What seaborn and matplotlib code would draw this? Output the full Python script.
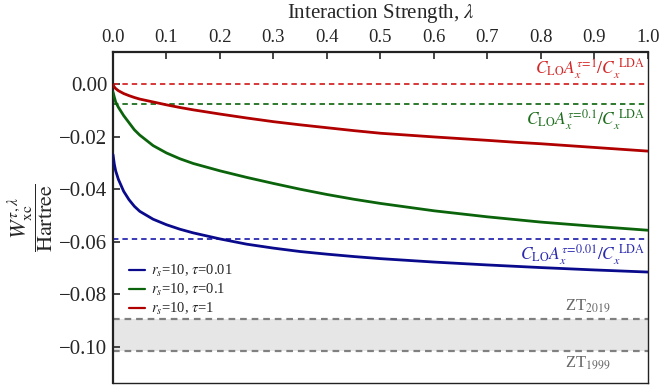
import numpy as np
import pandas as pd
import matplotlib
matplotlib.use("Agg")
import matplotlib.pyplot as plt
import seaborn as sns
from matplotlib.lines import Line2D

# ---- data ----
lam = [0.0, 0.0025, 0.005, 0.01, 0.02, 0.03, 0.04, 0.05, 0.075, 0.1, 0.125, 0.15, 0.2, 0.25,
       0.3, 0.35, 0.4, 0.45, 0.5, 0.6, 0.7, 0.75, 0.8, 0.9, 1.0]
w_tau001 = [-0.0268, -0.0305, -0.0330, -0.0362, -0.0408, -0.0440, -0.0465, -0.0484, -0.0514, -0.0535,
            -0.0552, -0.0566, -0.0589, -0.0609, -0.0624, -0.0637, -0.0647, -0.0656, -0.0664, -0.0677,
            -0.0688, -0.0693, -0.0698, -0.0707, -0.0715]
w_tau01 = [-0.0030, -0.0050, -0.0068, -0.0088, -0.0120, -0.0147, -0.0174, -0.0194, -0.0234, -0.0262,
           -0.0284, -0.0302, -0.0330, -0.0355, -0.0378, -0.0400, -0.0420, -0.0438, -0.0454, -0.0482,
           -0.0505, -0.0515, -0.0525, -0.0541, -0.0556]
w_tau1 = [-0.0003, -0.0011, -0.0017, -0.0025, -0.0036, -0.0044, -0.0051, -0.0057, -0.0068, -0.0079,
          -0.0089, -0.0098, -0.0114, -0.0129, -0.0143, -0.0155, -0.0166, -0.0177, -0.0187, -0.0201,
          -0.0214, -0.0221, -0.0227, -0.0241, -0.0255]
series_labels = [r"$r_s$=10, $\tau$=0.01", r"$r_s$=10, $\tau$=0.1", r"$r_s$=10, $\tau$=1"]
series_colors = ["#0a0a8c", "#0b640b", "#b00000"]
lda_levels = [-0.0588, -0.0075, 0.0]
lda_colors = ["#2a2ab0", "#1e6e1e", "#d42828"]
lda_labels = [r"$C_{\rm LO}A_x^{\tau\!=\!0.01}/C_x^{\ \rm LDA}$",
              r"$C_{\rm LO}A_x^{\tau\!=\!0.1}/C_x^{\ \rm LDA}$",
              r"$C_{\rm LO}A_x^{\tau\!=\!1}/C_x^{\ \rm LDA}$"]
zt_levels = [-0.0894, -0.1017]
zt_labels = [r"ZT$_{2019}$", r"ZT$_{1999}$"]
xticks = [0.0, 0.1, 0.2, 0.3, 0.4, 0.5, 0.6, 0.7, 0.8, 0.9, 1.0]
yticks = [0.0, -0.02, -0.04, -0.06, -0.08, -0.10]

df = pd.DataFrame({
    "lam": lam * 3,
    "W": w_tau001 + w_tau01 + w_tau1,
    "series": [series_labels[0]] * len(lam) + [series_labels[1]] * len(lam) + [series_labels[2]] * len(lam),
})

sns.set_style("white")
plt.rcParams["font.family"] = ["Liberation Serif", "DejaVu Serif"]
plt.rcParams["mathtext.fontset"] = "stix"

fig = plt.figure(figsize=(6.6, 3.92), dpi=100)
ax = fig.add_axes([0.1712, 0.023, 0.8106, 0.8443])

# shaded ZT band
ax.axhspan(zt_levels[1], zt_levels[0], color="#e6e6e6", lw=0, zorder=0)
for lv in zt_levels:
    ax.axhline(lv, color="#808080", ls=(0, (3, 2.2)), lw=1.6, zorder=1)

for lv, c in zip(lda_levels, lda_colors):
    ax.axhline(lv, color=c, ls=(0, (3, 2.2)), lw=1.3, zorder=1)

sns.lineplot(data=df, x="lam", y="W", hue="series", hue_order=series_labels,
             palette=series_colors, lw=2.0, ax=ax, legend=False, zorder=3)

# legend
handles = [Line2D([0], [0], color=c, lw=1.6) for c in series_colors]
ax.legend(handles, series_labels, loc="upper left", bbox_to_anchor=(0.013, 0.39),
          frameon=False, fontsize=10.5, handlelength=1.1, handletextpad=0.4,
          labelspacing=0.22, borderaxespad=0.2)

# text annotations
ax.text(0.995, lda_levels[2] + 0.0012, lda_labels[2], color=lda_colors[2], fontsize=12.5,
        ha="right", va="bottom")
ax.text(0.995, lda_levels[1] - 0.0012, lda_labels[1], color=lda_colors[1], fontsize=12.5,
        ha="right", va="top")
ax.text(0.995, lda_levels[0] - 0.0012, lda_labels[0], color=lda_colors[0], fontsize=12.5,
        ha="right", va="top")
ax.text(0.888, zt_levels[0] + 0.0015, zt_labels[0], color="#666666", fontsize=12, ha="center", va="bottom")
ax.text(0.888, zt_levels[1] - 0.0015, zt_labels[1], color="#666666", fontsize=12, ha="center", va="top")

ax.set_xlim(0, 1)
ax.set_ylim(-0.1137, 0.0122)
ax.set_xticks(xticks)
ax.set_xticklabels([f"{t:.1f}" for t in xticks])
ax.set_yticks(yticks)
ax.set_yticklabels([("\u2212" if t < 0 else "") + f"{abs(t):.2f}" for t in yticks])
ax.xaxis.set_ticks_position("top")
ax.xaxis.set_label_position("top")
ax.tick_params(axis="x", which="both", direction="in", length=5, width=1.2, labelsize=13.5,
               top=True, bottom=False, pad=4)
ax.tick_params(axis="y", which="both", direction="in", length=5, width=1.2, labelsize=15,
               left=True, right=False, pad=4)
ax.set_xlabel(r"Interaction Strength, $\lambda$", fontsize=15, labelpad=8)
ax.set_ylabel(r"$\dfrac{W_{\rm xc}^{\tau,\lambda}}{\rm Hartree}$", fontsize=16, labelpad=2)

for side in ["left", "top"]:
    ax.spines[side].set_linewidth(1.6)
    ax.spines[side].set_color("#222222")
for side in ["right", "bottom"]:
    ax.spines[side].set_linewidth(1.0)
    ax.spines[side].set_color("#222222")

fig.savefig("out.png", dpi=100)
